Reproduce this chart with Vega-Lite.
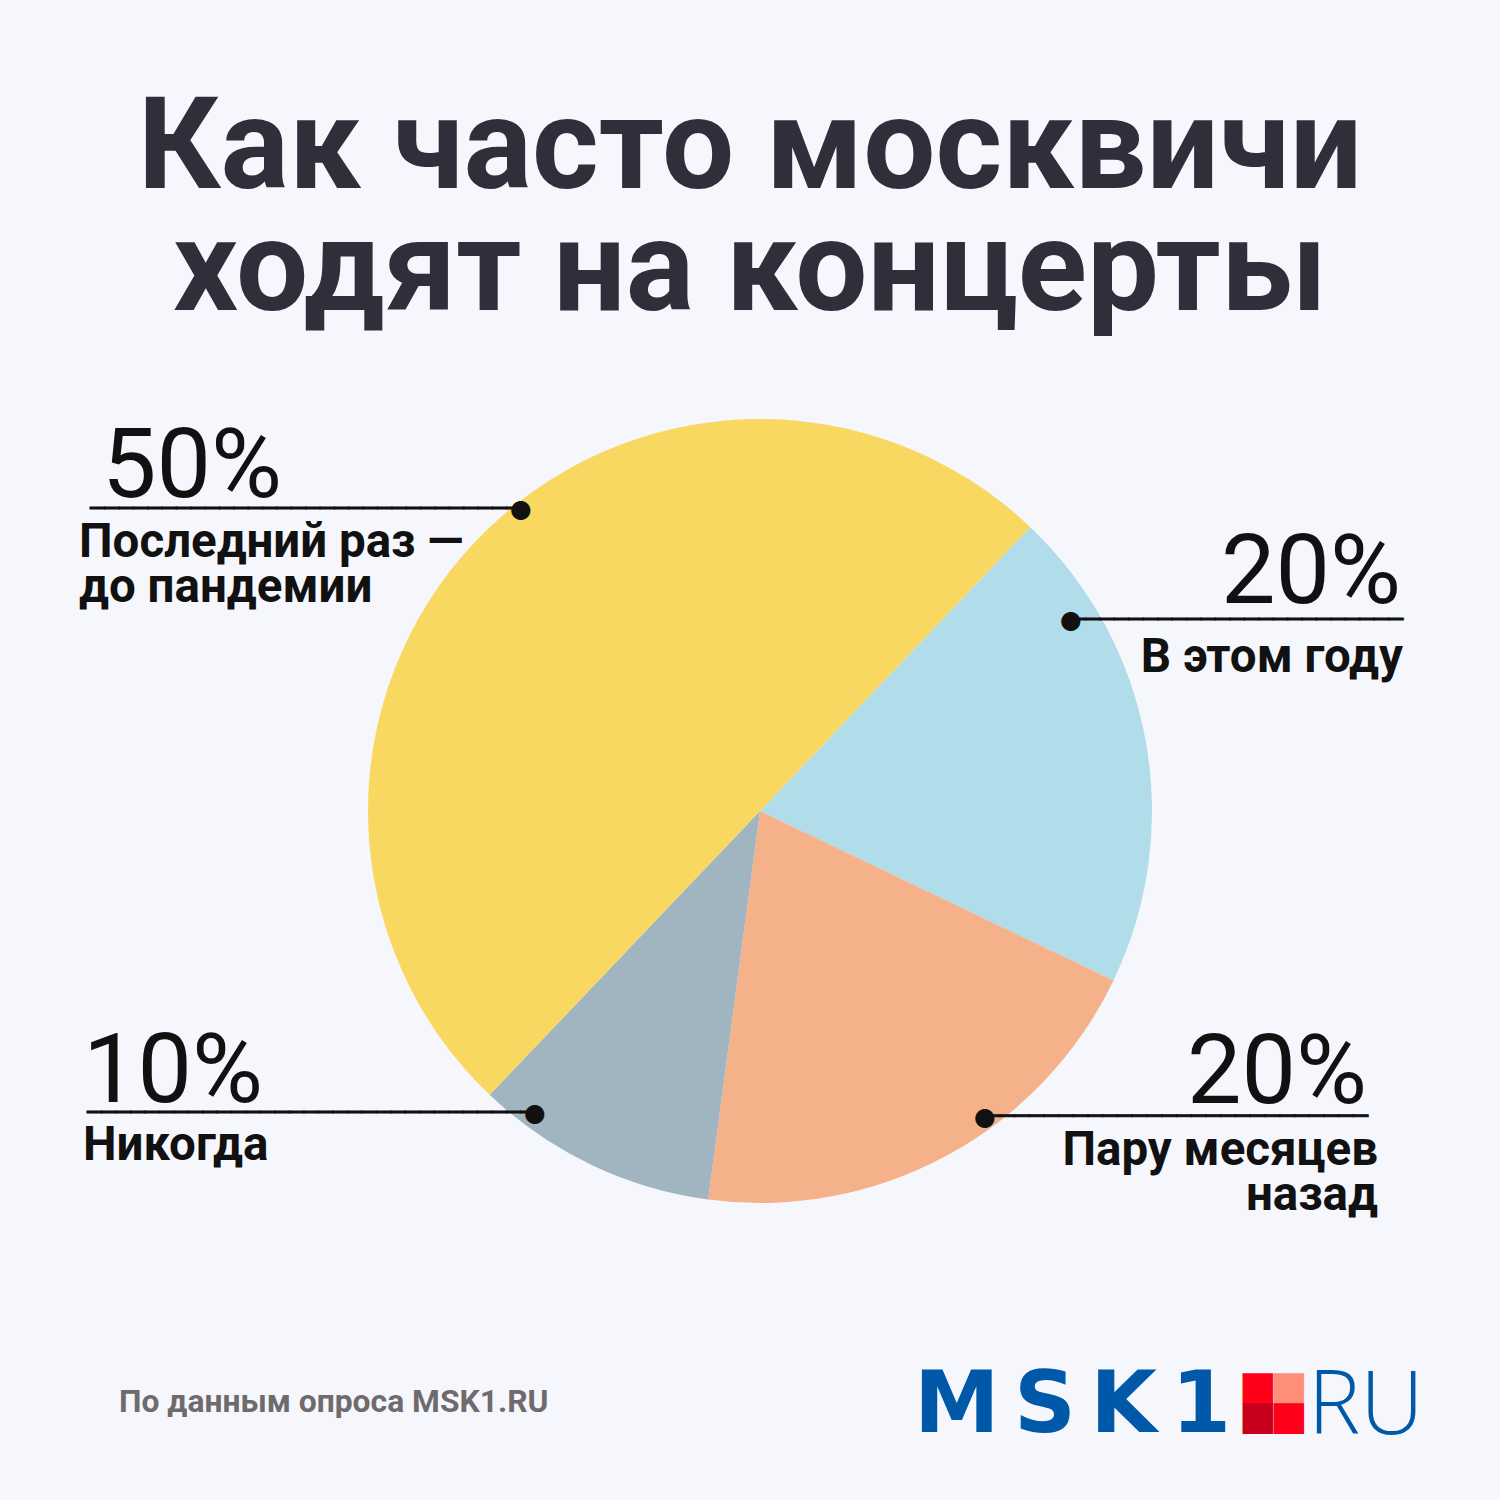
{
  "$schema": "https://vega.github.io/schema/vega-lite/v6.json",
  "autosize": "none",
  "width": 1480,
  "height": 1378,
  "padding": {"left": 20, "top": 122, "right": 0, "bottom": 0},
  "background": "#F6F7FC",
  "config": {"view": {"stroke": null}, "text": {"font": "Roboto"}},
  "datasets": {
    "slices": [
      {"category": "В этом году", "share": 20, "rank": 1, "pct": "20%", "label": "В этом году"},
      {"category": "Пару месяцев назад", "share": 20, "rank": 2, "pct": "20%", "label": "Пару месяцев\nназад"},
      {"category": "Никогда", "share": 10, "rank": 3, "pct": "10%", "label": "Никогда"},
      {"category": "Последний раз — до пандемии", "share": 50, "rank": 4, "pct": "50%", "label": "Последний раз —\nдо пандемии"}
    ]
  },
  "data": {"name": "slices"},
  "layer": [
    {
      "mark": {"type": "arc", "outerRadius": 392, "stroke": null},
      "encoding": {
        "theta": {"field": "share", "type": "quantitative", "stack": true, "scale": {"range": [0.761, 7.0442]}},
        "color": {
          "field": "category",
          "type": "nominal",
          "scale": {
            "domain": ["В этом году", "Пару месяцев назад", "Никогда", "Последний раз — до пандемии"],
            "range": ["#B1DCE9", "#F5B28A", "#A0B5BF", "#F9D861"]
          },
          "legend": null
        },
        "order": {"field": "rank", "type": "quantitative"}
      }
    },
    {
      "data": {"values": [{"heading": "Как часто москвичи\nходят на концерты"}]},
      "mark": {"type": "text", "fontSize": 128, "fontWeight": "bold", "align": "center", "baseline": "alphabetic", "lineBreak": "\n", "lineHeight": 122, "dx": -10, "dy": -623, "color": "#2F2E3B"},
      "encoding": {"text": {"field": "heading"}}
    },
    {
      "transform": [{"filter": "datum.rank == 4"}],
      "layer": [
        {"mark": {"type": "text", "font": "DejaVu Sans Mono", "fontSize": 23.86, "align": "right", "baseline": "middle", "dx": -239, "dy": -302, "color": "#111111", "stroke": "#111111", "strokeWidth": 1}, "encoding": {"text": {"value": "──────────────────────────────"}}},
        {"mark": {"type": "text", "font": "DejaVu Sans", "fontSize": 25, "align": "center", "baseline": "middle", "dx": -239, "dy": -302, "color": "#111111"}, "encoding": {"text": {"value": "●"}}},
        {"mark": {"type": "text", "fontSize": 97, "fontWeight": 400, "align": "left", "baseline": "alphabetic", "dx": -658, "dy": -314, "color": "#111111"}, "encoding": {"text": {"field": "pct"}}},
        {"mark": {"type": "text", "fontSize": 47.5, "fontWeight": "bold", "align": "left", "baseline": "alphabetic", "dx": -681, "dy": -254, "lineBreak": "\n", "lineHeight": 45, "color": "#111111"}, "encoding": {"text": {"field": "label"}}}
      ]
    },
    {
      "transform": [{"filter": "datum.rank == 1"}],
      "layer": [
        {"mark": {"type": "text", "font": "DejaVu Sans Mono", "fontSize": 23.97, "align": "left", "baseline": "middle", "dx": 311, "dy": -191, "color": "#111111", "stroke": "#111111", "strokeWidth": 1}, "encoding": {"text": {"value": "───────────────────────"}}},
        {"mark": {"type": "text", "font": "DejaVu Sans", "fontSize": 25, "align": "center", "baseline": "middle", "dx": 311, "dy": -191, "color": "#111111"}, "encoding": {"text": {"value": "●"}}},
        {"mark": {"type": "text", "fontSize": 97, "fontWeight": 400, "align": "right", "baseline": "alphabetic", "dx": 641, "dy": -208, "color": "#111111"}, "encoding": {"text": {"field": "pct"}}},
        {"mark": {"type": "text", "fontSize": 47.5, "fontWeight": "bold", "align": "right", "baseline": "alphabetic", "dx": 643, "dy": -139, "lineBreak": "\n", "lineHeight": 45, "color": "#111111"}, "encoding": {"text": {"field": "label"}}}
      ]
    },
    {
      "transform": [{"filter": "datum.rank == 2"}],
      "layer": [
        {"mark": {"type": "text", "font": "DejaVu Sans Mono", "fontSize": 24.47, "align": "left", "baseline": "middle", "dx": 225, "dy": 306, "color": "#111111", "stroke": "#111111", "strokeWidth": 1}, "encoding": {"text": {"value": "──────────────────────────"}}},
        {"mark": {"type": "text", "font": "DejaVu Sans", "fontSize": 25, "align": "center", "baseline": "middle", "dx": 225, "dy": 306, "color": "#111111"}, "encoding": {"text": {"value": "●"}}},
        {"mark": {"type": "text", "fontSize": 97, "fontWeight": 400, "align": "right", "baseline": "alphabetic", "dx": 607, "dy": 292, "color": "#111111"}, "encoding": {"text": {"field": "pct"}}},
        {"mark": {"type": "text", "fontSize": 47.5, "fontWeight": "bold", "align": "right", "baseline": "alphabetic", "dx": 618, "dy": 354, "lineBreak": "\n", "lineHeight": 45, "color": "#111111"}, "encoding": {"text": {"field": "label"}}}
      ]
    },
    {
      "transform": [{"filter": "datum.rank == 3"}],
      "layer": [
        {"mark": {"type": "text", "font": "DejaVu Sans Mono", "fontSize": 24.0, "align": "right", "baseline": "middle", "dx": -225, "dy": 302, "color": "#111111", "stroke": "#111111", "strokeWidth": 1}, "encoding": {"text": {"value": "───────────────────────────────"}}},
        {"mark": {"type": "text", "font": "DejaVu Sans", "fontSize": 25, "align": "center", "baseline": "middle", "dx": -225, "dy": 302, "color": "#111111"}, "encoding": {"text": {"value": "●"}}},
        {"mark": {"type": "text", "fontSize": 97, "fontWeight": 400, "align": "left", "baseline": "alphabetic", "dx": -677, "dy": 291, "color": "#111111"}, "encoding": {"text": {"field": "pct"}}},
        {"mark": {"type": "text", "fontSize": 47.5, "fontWeight": "bold", "align": "left", "baseline": "alphabetic", "dx": -677, "dy": 349, "lineBreak": "\n", "lineHeight": 45, "color": "#111111"}, "encoding": {"text": {"field": "label"}}}
      ]
    },
    {
      "data": {"values": [{"note": "По данным опроса MSK1.RU"}]},
      "mark": {"type": "text", "fontSize": 31.8, "fontWeight": "bold", "align": "left", "baseline": "alphabetic", "dx": -641, "dy": 601, "color": "#6F6B6C"},
      "encoding": {"text": {"field": "note"}}
    },
    {
      "data": {"values": [{"brand": "M\u2006S\u2006K\u20061", "zone": "RU"}]},
      "layer": [
        {"mark": {"type": "text", "font": "DejaVu Sans", "fontSize": 86, "fontWeight": "bold", "align": "left", "baseline": "alphabetic", "dx": 154, "dy": 621, "color": "#0059A8"}, "encoding": {"text": {"field": "brand"}}},
        {"mark": {"type": "text", "font": "DejaVu Sans", "fontSize": 40, "align": "center", "baseline": "middle", "dx": 498, "dy": 576, "color": "#FF001A"}, "encoding": {"text": {"value": "■"}}},
        {"mark": {"type": "text", "font": "DejaVu Sans", "fontSize": 40, "align": "center", "baseline": "middle", "dx": 529, "dy": 576, "color": "#FF8E78"}, "encoding": {"text": {"value": "■"}}},
        {"mark": {"type": "text", "font": "DejaVu Sans", "fontSize": 40, "align": "center", "baseline": "middle", "dx": 498, "dy": 606, "color": "#C8001E"}, "encoding": {"text": {"value": "■"}}},
        {"mark": {"type": "text", "font": "DejaVu Sans", "fontSize": 40, "align": "center", "baseline": "middle", "dx": 529, "dy": 606, "color": "#FF001A"}, "encoding": {"text": {"value": "■"}}},
        {"mark": {"type": "text", "font": "Open Sans", "fontSize": 88, "fontWeight": 300, "align": "left", "baseline": "alphabetic", "dx": 548, "dy": 623, "color": "#0059A8"}, "encoding": {"text": {"field": "zone"}}}
      ]
    }
  ]
}
